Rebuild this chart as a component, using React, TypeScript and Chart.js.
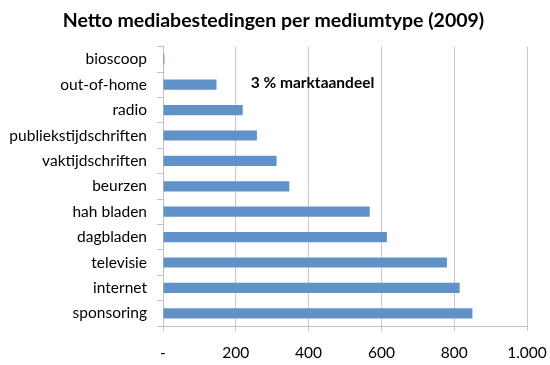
import React, { useEffect, useRef } from "react";
import { Chart, registerables } from "chart.js";

Chart.register(...registerables);

const categories = [
  "bioscoop",
  "out-of-home",
  "radio",
  "publiekstijdschriften",
  "vaktijdschriften",
  "beurzen",
  "hah bladen",
  "dagbladen",
  "televisie",
  "internet",
  "sponsoring",
];
const values = [4, 147, 219, 258, 312, 347, 568, 615, 780, 815, 850];
const titleText = "Netto mediabestedingen per mediumtype (2009)";
const annotationText = "3 % marktaandeel";
const xTicks = [0, 200, 400, 600, 800, 1000];

const FONT = "Lato, 'Open Sans', sans-serif";

const textPlugin = {
  id: "texts",
  afterDraw(chart: any) {
    const { ctx, scales } = chart;
    ctx.save();
    ctx.fillStyle = "#000";
    ctx.textBaseline = "middle";
    // title
    ctx.font = `bold 19.5px ${FONT}`;
    ctx.textAlign = "center";
    ctx.fillText(titleText, 273.5, 20.7);
    // annotation
    const x = scales.x.getPixelForValue(241);
    const y = scales.y.getPixelForValue(1) - 1.5;
    ctx.font = `bold 15.5px ${FONT}`;
    ctx.textAlign = "left";
    ctx.fillText(annotationText, x, y);
    ctx.restore();
  },
};

export default function App() {
  const ref = useRef<HTMLCanvasElement>(null);
  useEffect(() => {
    const chart = new Chart(ref.current!, {
      type: "bar",
      data: {
        labels: categories,
        datasets: [
          {
            data: values,
            backgroundColor: "#6092c8",
            borderWidth: 0,
            barPercentage: 0.4,
            categoryPercentage: 1,
          },
        ],
      },
      options: {
        indexAxis: "y",
        animation: false,
        responsive: false,
        layout: { padding: { left: 0, right: 23, top: 46.6, bottom: 0 } },
        plugins: {
          legend: { display: false },
          tooltip: { enabled: false },
          title: { display: false },
        },
        scales: {
          x: {
            min: 0,
            max: 1000,
            afterBuildTicks(scale: any) {
              scale.ticks = xTicks.map((v) => ({ value: v }));
            },
            afterFit(scale: any) {
              scale.height = 39;
              scale.paddingLeft = 0;
              scale.paddingRight = 0;
            },
            grid: {
              color: "#c8c8c8",
              tickLength: 5,
              lineWidth: 1,
            },
            border: { display: true, color: "#c0c0c0" },
            ticks: {
              padding: 13,
              color: "#000",
              font: { family: FONT, size: 15.5 },
              maxRotation: 0,
              callback: (v: any) =>
                Number(v) === 0 ? "-" : Number(v).toLocaleString("nl-NL"),
            },
          },
          y: {
            afterFit(scale: any) {
              scale.width = 163;
              scale.paddingTop = 0;
              scale.paddingBottom = 0;
            },
            grid: {
              offset: true,
              drawOnChartArea: false,
              tickLength: 6,
              color: "#c0c0c0",
            },
            border: { display: true, color: "#c0c0c0" },
            ticks: {
              padding: 10,
              color: "#000",
              font: { family: FONT, size: 15.5 },
            },
          },
        },
      },
      plugins: [textPlugin],
    });
    return () => chart.destroy();
  }, []);
  return (
    <div style={{ position: "fixed", left: 0, top: 0, width: 550, height: 365, background: "#fff" }}>
      <canvas ref={ref} width={550} height={365} />
    </div>
  );
}
